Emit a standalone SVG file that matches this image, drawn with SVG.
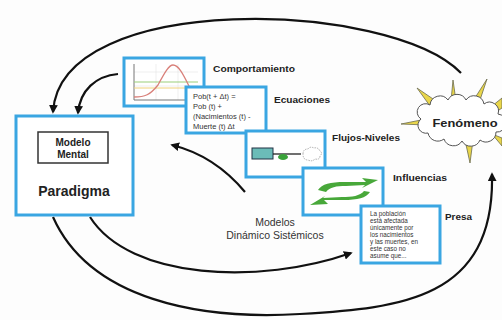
<svg xmlns="http://www.w3.org/2000/svg" width="502" height="320" viewBox="0 0 502 320">
  <defs>
    <marker id="arrow" viewBox="0 0 10 10" refX="8" refY="5" markerWidth="4" markerHeight="4" orient="auto" markerUnits="strokeWidth">
      <path d="M0,0 L10,5 L0,10 Z" fill="#111"/>
    </marker>
    <style>
      .card { fill: #fff; stroke: #3aa6e2; stroke-width: 3; }
      .link { fill: none; stroke: #111; stroke-width: 2.2; }
      .lbl { font-family: "Liberation Sans", Arial, sans-serif; font-weight: bold; fill: #222; }
      .small { font-family: "Liberation Sans", Arial, sans-serif; fill: #333; }
      .spike { fill: #e9d64a; stroke: #6b6b50; stroke-width: 0.8; }
    </style>
  </defs>

  <rect width="502" height="320" fill="#fdfdfd"/>

  <!-- connectors -->
  <g id="connectors">
    <path class="link" d="M461,73 C390,0 60,-10 53,112" marker-end="url(#arrow)"/>
    <path class="link" d="M118,74 C96,76 80,90 78,113" marker-end="url(#arrow)"/>
    <path class="link" d="M245,192 C225,168 200,152 172,145" marker-end="url(#arrow)"/>
    <path class="link" d="M90,217 C130,280 260,285 351,253" marker-end="url(#arrow)"/>
    <path class="link" d="M53,217 C90,300 200,320 300,314 C400,308 495,300 492,174" marker-end="url(#arrow)"/>
  </g>

  <!-- Paradigma with Modelo Mental -->
  <g id="paradigma">
    <rect class="card" x="16" y="116" width="117" height="99"/>
    <rect x="38" y="132" width="70" height="31" fill="#fff" stroke="#333" stroke-width="1.5"/>
    <text class="lbl" x="73" y="146" font-size="10" text-anchor="middle">Modelo</text>
    <text class="lbl" x="73" y="158" font-size="10" text-anchor="middle">Mental</text>
    <text class="lbl" x="74" y="196" font-size="14" text-anchor="middle">Paradigma</text>
  </g>

  <!-- behaviour chart -->
  <g id="comportamiento">
    <rect class="card" x="124" y="58" width="80" height="48"/>
    <g stroke="#ddd" stroke-width="0.5">
      <line x1="134" y1="72" x2="198" y2="72"/>
      <line x1="134" y1="86" x2="198" y2="86"/>
      <line x1="156" y1="64" x2="156" y2="100"/>
      <line x1="178" y1="64" x2="178" y2="100"/>
    </g>
    <line x1="134" y1="64" x2="134" y2="100" stroke="#777" stroke-width="1"/>
    <line x1="134" y1="100" x2="198" y2="100" stroke="#777" stroke-width="1"/>
    <line x1="134" y1="82" x2="198" y2="82" stroke="#9ccf7a" stroke-width="1.2"/>
    <line x1="134" y1="88" x2="198" y2="88" stroke="#f0d27a" stroke-width="1"/>
    <path d="M134,97 C145,97 150,95 158,85 C165,72 169,65 173,65 C179,65 184,76 190,88 C193,94 195,97 198,99" fill="none" stroke="#d9807a" stroke-width="1.3"/>
    <text class="lbl" x="213" y="72" font-size="9" textLength="82" lengthAdjust="spacingAndGlyphs">Comportamiento</text>
  </g>

  <!-- equations -->
  <g id="ecuaciones">
    <rect class="card" x="186" y="87" width="80" height="46"/>
    <text class="small" x="193" y="99" font-size="7.5">Pob(t + Δt) =</text>
    <text class="small" x="193" y="109" font-size="7.5">Pob (t) +</text>
    <text class="small" x="193" y="119" font-size="7.5">(Nacimientos (t) -</text>
    <text class="small" x="193" y="129" font-size="7.5">Muerte (t) Δt</text>
    <text class="lbl" x="274" y="103" font-size="9" textLength="56" lengthAdjust="spacingAndGlyphs">Ecuaciones</text>
  </g>

  <!-- stocks and flows -->
  <g id="flujos-niveles">
    <rect class="card" x="246" y="131" width="79" height="46"/>
    <rect x="252" y="148" width="21" height="11" fill="#6bbcb8" stroke="#234" stroke-width="1"/>
    <line x1="273" y1="154" x2="301" y2="154" stroke="#111" stroke-width="1.2"/>
    <ellipse cx="283" cy="157" rx="5" ry="3" fill="#3aa33a"/>
    <path d="M303,154 q0,-5 5,-5 q2,-3 6,-1 q4,-1 6,3 q3,2 0,5 q0,4 -5,3 q-3,3 -7,1 q-5,0 -5,-6 z" fill="none" stroke="#999" stroke-width="0.8" stroke-dasharray="1.5 1"/>
    <text class="lbl" x="332" y="141" font-size="9" textLength="68" lengthAdjust="spacingAndGlyphs">Flujos-Niveles</text>
  </g>

  <!-- influence diagram -->
  <g id="influencias">
    <rect class="card" x="303" y="168" width="80" height="47"/>
    <path d="M318,190 C322,184 330,182 345,182 L366,182 L362,178 L378,180 L362,188 L365,185 L346,186 C336,186 330,187 326,192 Z" fill="#48a83a"/>
    <path d="M370,192 C366,198 358,200 343,200 L324,200 L328,204 L310,205 L325,196 L323,198 L342,197 C352,197 360,196 364,191 Z" fill="#48a83a"/>
    <text class="lbl" x="393" y="181" font-size="9" textLength="54" lengthAdjust="spacingAndGlyphs">Influencias</text>
  </g>

  <!-- prose description -->
  <g id="presa">
    <rect class="card" x="361" y="206" width="79" height="57"/>
    <g class="small" font-size="6.3">
      <text x="370" y="216">La población</text>
      <text x="370" y="223">está afectada</text>
      <text x="370" y="230">únicamente por</text>
      <text x="370" y="237">los nacimientos</text>
      <text x="370" y="244">y las muertes, en</text>
      <text x="370" y="251">este caso no</text>
      <text x="370" y="258">asume que...</text>
    </g>
    <text class="lbl" x="445" y="220" font-size="9" textLength="27" lengthAdjust="spacingAndGlyphs">Presa</text>
  </g>

  <!-- caption -->
  <g id="modelos">
    <text class="small" x="275" y="226" font-size="10.5" text-anchor="middle" fill="#555">Modelos</text>
    <text class="small" x="275" y="239" font-size="10.5" text-anchor="middle" fill="#555">Dinámico Sistémicos</text>
  </g>

  <!-- phenomenon cloud -->
  <g id="fenomeno">
    <polygon class="spike" points="451,101 453,80 456,101"/>
    <polygon class="spike" points="473,101 487,79 479,103"/>
    <polygon class="spike" points="430,106 417,88 436,101"/>
    <polygon class="spike" points="426,119 401,124 426,125"/>
    <polygon class="spike" points="465,140 470,163 473,140"/>
    <polygon class="spike" points="492,106 502,98 502,108 496,112"/>
    <polygon class="spike" points="492,134 502,146 502,138"/>
    <path d="M421,119 a8,8 0 0 1 9,-14 a10,10 0 0 1 18,-5 a10,10 0 0 1 18,0 a10,10 0 0 1 18,4 a9,9 0 0 1 14,10 a9,9 0 0 1 -2,18 a10,10 0 0 1 -16,8 a10,10 0 0 1 -18,1 a10,10 0 0 1 -18,-2 a10,10 0 0 1 -16,-6 a8,8 0 0 1 -7,-14 z" fill="#fff" stroke="#555" stroke-width="1"/>
    <text class="lbl" x="465" y="127" font-size="11" text-anchor="middle" textLength="65" lengthAdjust="spacingAndGlyphs">Fenómeno</text>
  </g>
</svg>
